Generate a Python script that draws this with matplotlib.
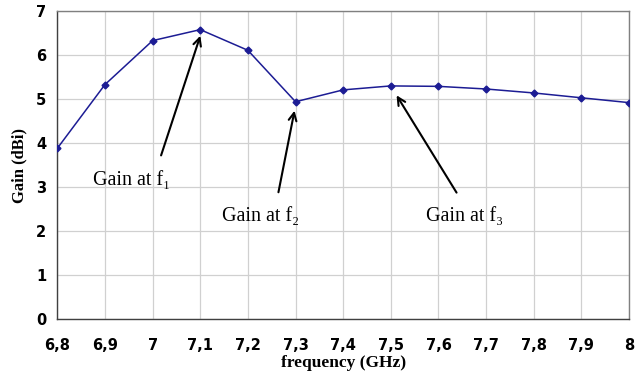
import matplotlib
matplotlib.use("Agg")
import matplotlib.pyplot as plt

# data
freq = [6.8, 6.9, 7.0, 7.1, 7.2, 7.3, 7.4, 7.5, 7.6, 7.7, 7.8, 7.9, 8.0]
gain = [3.88, 5.33, 6.33, 6.58, 6.11, 4.94, 5.21, 5.30, 5.29, 5.23, 5.14, 5.03, 4.92]
xtick_labels = ["6,8", "6,9", "7", "7,1", "7,2", "7,3", "7,4", "7,5", "7,6", "7,7", "7,8", "7,9", "8"]
notes = ["Gain at f\u2081", "Gain at f\u2082", "Gain at f\u2083"]
note_xy = [(7.102, 6.50), (7.299, 4.80), (7.509, 5.14)]
note_tail = [(7.016, 3.66), (7.263, 2.82), (7.641, 2.82)]
note_text = [(6.875, 3.16), (7.146, 2.32), (7.574, 2.32)]

fig = plt.figure(figsize=(6.38, 3.72), dpi=100)
ax = fig.add_axes([0.0898, 0.1425, 0.8962, 0.8275])

ax.plot(freq, gain, color="#1c1c94", lw=1.1, marker="D", ms=3.5, zorder=3)

ax.set_xlim(6.8, 8.0)
ax.set_ylim(0, 7)
ax.set_xticks(freq)
ax.set_xticklabels(xtick_labels)
ax.set_yticks(range(8))
ax.grid(True, color="#d0d0d0", lw=0.9)
ax.set_axisbelow(True)
ax.tick_params(length=0, pad=14, labelsize=10.5)
ax.tick_params(axis="y", pad=8)
for lab in ax.get_xticklabels() + ax.get_yticklabels():
    lab.set_fontweight("bold")
    lab.set_family("DejaVu Sans")
for s in ax.spines.values():
    s.set_color("#808080")
    s.set_linewidth(1.0)
ax.spines["left"].set_color("#404040")
ax.spines["bottom"].set_color("#404040")

serif = ["Liberation Serif", "DejaVu Serif"]
ax.set_xlabel("frequency (GHz)", family=serif, fontweight="bold", fontsize=12.5, labelpad=1)
ax.set_ylabel("Gain (dBi)", family=serif, fontweight="bold", fontsize=12, labelpad=6)

for t, xy, tail, pos in zip(notes, note_xy, note_tail, note_text):
    ax.annotate("", xy=xy, xytext=tail,
                arrowprops=dict(arrowstyle="->", color="black", lw=1.5, mutation_scale=14))
    ax.text(pos[0], pos[1], t, family=serif, fontsize=14.5, va="center", ha="left")

fig.savefig("out.png", dpi=100)
